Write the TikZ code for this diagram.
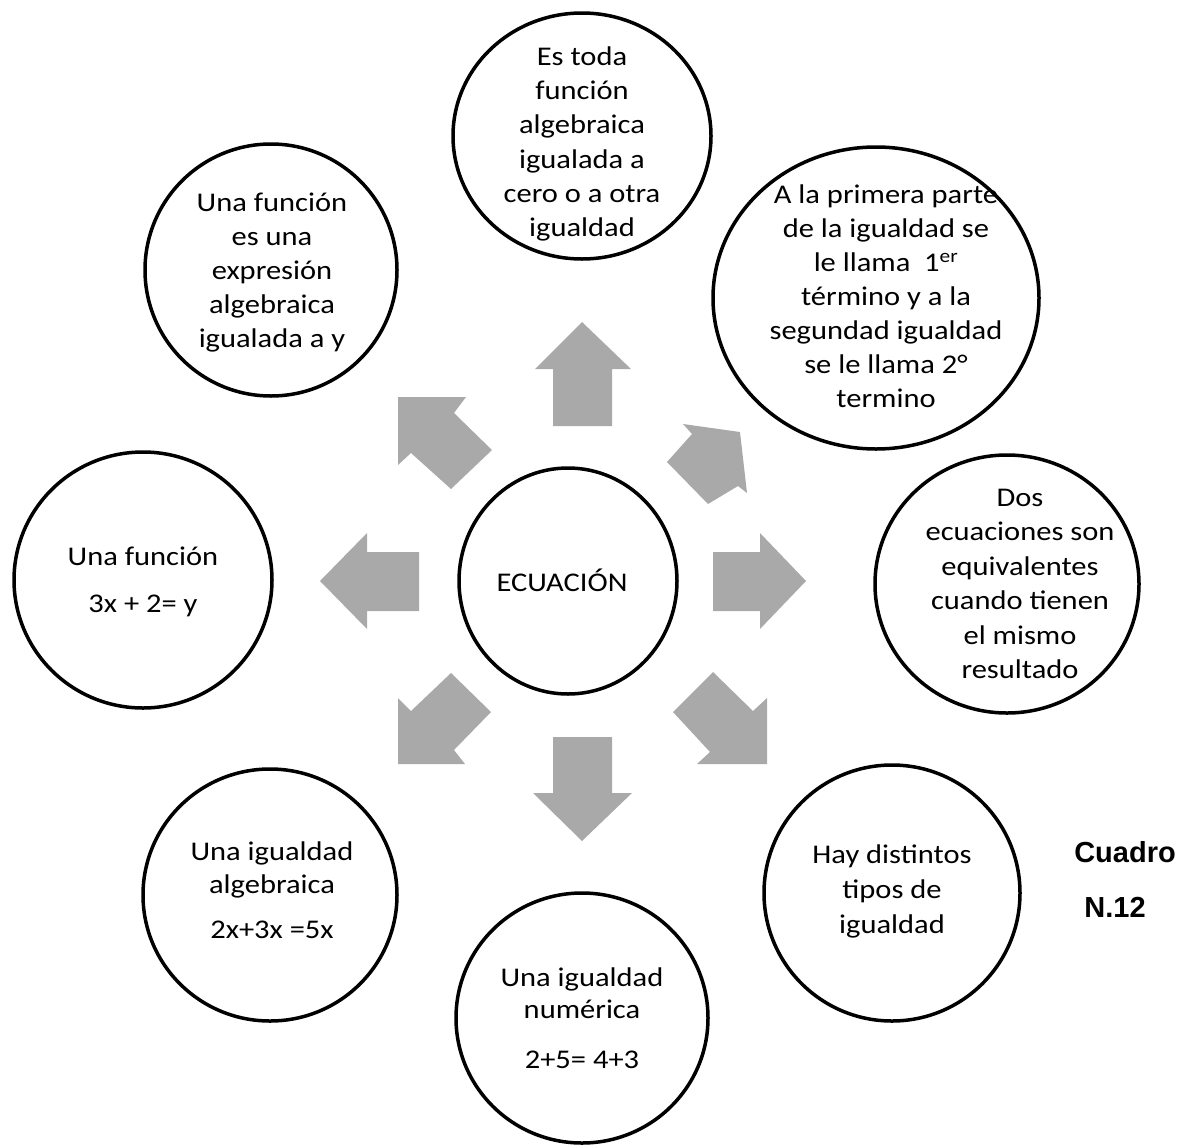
\documentclass[tikz,border=0pt]{standalone}
\usepackage{fontspec}
\setmainfont{Carlito}[FakeStretch=1.13]
\newfontfamily\labelfont{Liberation Sans}
\usetikzlibrary{shapes.geometric}
\definecolor{arrowgray}{RGB}{169,169,169}
\begin{document}
\begin{tikzpicture}[x=1pt,y=-1pt,
  bubble/.style={draw=black, line width=3.5pt, ellipse, inner sep=0pt},
  txt/.style={align=center, inner sep=0pt, font=\fontsize{27}{34}\selectfont},
  blockarrow/.style={fill=arrowgray},
  caption/.style={inner sep=0pt, font=\labelfont\bfseries\fontsize{29}{29}\selectfont}]
\useasboundingbox (0,0) rectangle (1178,1146);

% bubbles
\node[bubble, minimum width=218pt, minimum height=226pt] (centre) at (568,581) {};
\node[bubble, minimum width=258pt, minimum height=246pt] (top) at (582,136) {};
\node[bubble, minimum width=326pt, minimum height=302pt] (topright) at (876,298) {};
\node[bubble, minimum width=264pt, minimum height=258pt] (right) at (1007,584) {};
\node[bubble, minimum width=256pt, minimum height=256pt] (bottomright) at (892,893) {};
\node[bubble, minimum width=252pt, minimum height=250pt] (bottom) at (582,1018) {};
\node[bubble, minimum width=254pt, minimum height=252pt] (bottomleft) at (270,895) {};
\node[bubble, minimum width=258pt, minimum height=256pt] (left) at (143,580) {};
\node[bubble, minimum width=252pt, minimum height=252pt] (topleft) at (271,270) {};

% texts
\node[txt] (centre-t) at (562,580) {ECUACIÓN};
\node[txt, font=\fontsize{27}{34.2}\selectfont] (top-t) at (582,144) {Es toda\\ función\\ algebraica\\ igualada a\\ cero o a otra\\ igualdad};
\node[txt] (topright-t) at (886,296) {A la primera parte\\ de la igualdad se\\ le llama\ \ 1\textsuperscript{er}\\ término y a la\\ segundad igualdad\\ se le llama 2°\\ termino};
\node[txt, font=\fontsize{27}{34.5}\selectfont] (right-t) at (1020,584) {Dos\\ ecuaciones son\\ equivalentes\\ cuando tienen\\ el mismo\\ resultado};
\node[txt, font=\fontsize{27}{35}\selectfont] (bottomright-t) at (892,891) {Hay distintos\\ tipos de\\ igualdad};
\node[txt, font=\fontsize{27}{32}\selectfont] (bottom-t) at (582,1018) {Una igualdad\\ numérica\\[18pt] 2+5= 4+3};
\node[txt, font=\fontsize{27}{33}\selectfont] (bottomleft-t) at (272,890) {Una igualdad\\ algebraica\\[12pt] 2x+3x =5x};
\node[txt] (left-t) at (143,582) {Una función\\[13pt] 3x + 2= y};
\node[txt] (topleft-t) at (272,273) {Una función\\ es una\\ expresión\\ algebraica\\ igualada a y};

% block arrows around the centre
\fill[blockarrow] (553,426) -- (553,369) -- (535,369) -- (582,322) -- (631,369) -- (612,369) -- (612,426) -- cycle;
\fill[blockarrow] (553,737) -- (612,737) -- (612,793) -- (632,793) -- (582,841) -- (533,793) -- (553,793) -- cycle;
\fill[blockarrow] (419,552) -- (367,552) -- (367,533) -- (320,581) -- (367,629) -- (367,611) -- (419,611) -- cycle;
\fill[blockarrow] (713,552) -- (760,552) -- (760,533) -- (806,581) -- (760,629) -- (760,611) -- (713,611) -- cycle;
\fill[blockarrow] (398,397) -- (466,397) -- (454,413) -- (492,450) -- (451,489) -- (411,453) -- (398,465) -- cycle;
\fill[blockarrow] (451,673) -- (491,712) -- (454,750) -- (465,764) -- (398,764) -- (398,698) -- (411,711) -- cycle;
\fill[blockarrow] (713,672) -- (753,711) -- (767,698) -- (767,764) -- (697,764) -- (710,752) -- (673,712) -- cycle;
\fill[blockarrow] (740,432) -- (683,424) -- (692,434) -- (667,462) -- (708,504) -- (738,486) -- (747,493) -- cycle;

% caption
\node[caption] (cuadro) at (1125,852) {Cuadro};
\node[caption] (numero) at (1115,907) {N.12};
\end{tikzpicture}
\end{document}
